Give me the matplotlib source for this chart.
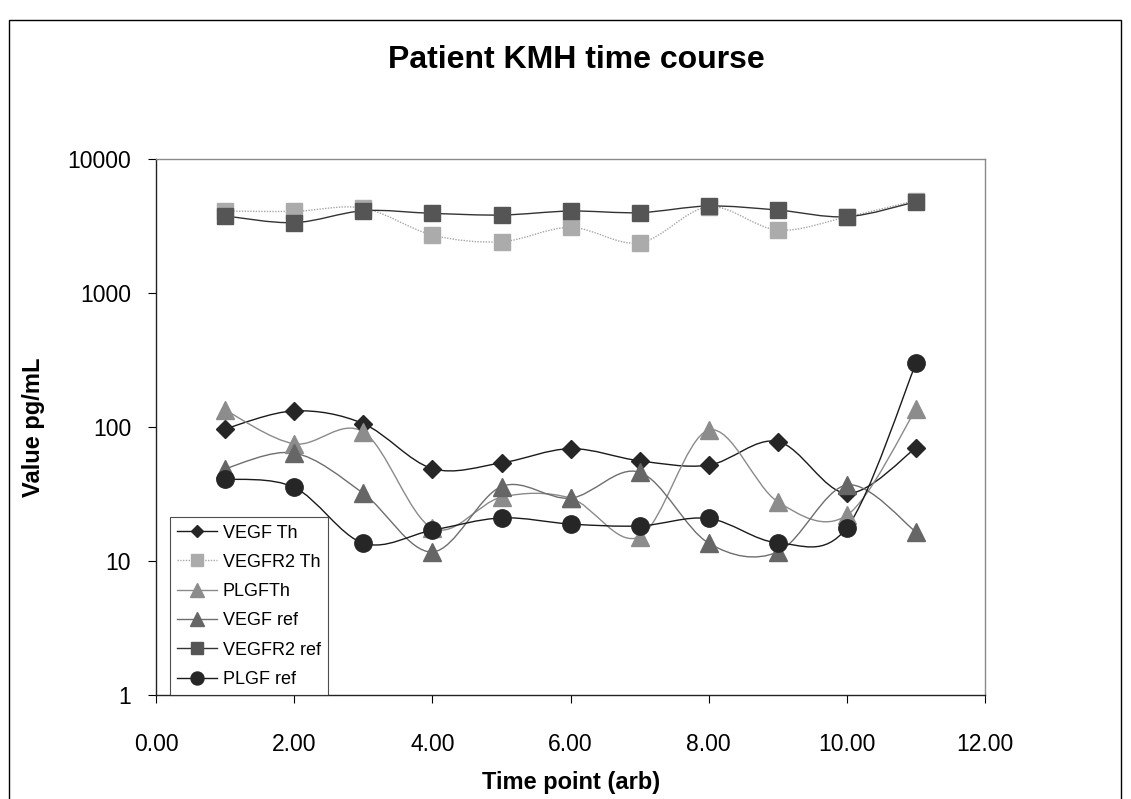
import numpy as np
import matplotlib
matplotlib.use("Agg")
import matplotlib.pyplot as plt
from matplotlib.path import Path
from matplotlib.patches import PathPatch, Rectangle
from matplotlib.lines import Line2D

plt.rcParams.update({
    'font.family': ['Liberation Sans', 'DejaVu Sans'],
    'font.size': 13,
})

time_points = [1, 2, 3, 4, 5, 6, 7, 8, 9, 10, 11]

vegf_th = [97, 132, 106, 49, 54, 69, 56, 52, 78, 32, 70]
vegfr2_th = [4090, 4070, 4300, 2710, 2415, 3090, 2370, 4400, 2950, 3700, 4900]
plgf_th = [134, 75, 92, 17.6, 30, 29.5, 15.2, 95, 27.7, 22, 136]
vegf_ref = [49, 64, 32, 11.7, 36, 29.5, 46, 13.6, 11.7, 37, 16.5]
vegfr2_ref = [3760, 3350, 4110, 3930, 3820, 4090, 3980, 4460, 4160, 3710, 4800]
plgf_ref = [41, 35.5, 13.6, 17, 21, 18.9, 18.3, 20.8, 13.7, 17.8, 299]

series_names = ['VEGF Th', 'VEGFR2 Th', 'PLGFTh', 'VEGF ref', 'VEGFR2 ref', 'PLGF ref']
series_vals = [vegf_th, vegfr2_th, plgf_th, vegf_ref, vegfr2_ref, plgf_ref]

# marker, marker size, face colour, line colour, line style
styles = [
    ('D', 8.8, '#262626', '#1a1a1a', '-'),
    ('s', 12, '#ababab', '#a6a6a6', (0, (1, 1))),
    ('^', 13, '#8c8c8c', '#8a8a8a', '-'),
    ('^', 13, '#666666', '#6e6e6e', '-'),
    ('s', 12, '#555555', '#333333', '-'),
    ('o', 12.5, '#262626', '#1a1a1a', '-'),
]


def smooth_path(x, y, k=1 / 6):
    # Excel style smoothed line: cubic bezier through the points (in log-y space)
    x = np.asarray(x, float)
    ly = np.log10(np.asarray(y, float))
    n = len(x)
    verts = [(x[0], ly[0])]
    codes = [Path.MOVETO]
    for i in range(n - 1):
        p0 = np.array([x[max(i - 1, 0)], ly[max(i - 1, 0)]])
        p1 = np.array([x[i], ly[i]])
        p2 = np.array([x[i + 1], ly[i + 1]])
        p3 = np.array([x[min(i + 2, n - 1)], ly[min(i + 2, n - 1)]])
        c1 = p1 + (p2 - p0) * k
        c2 = p2 - (p3 - p1) * k
        verts += [tuple(c1), tuple(c2), tuple(p2)]
        codes += [Path.CURVE4] * 3
    verts = [(vx, 10 ** vy) for vx, vy in verts]
    return Path(verts, codes)


fig = plt.figure(figsize=(11.31, 7.99), dpi=100)
ax = fig.add_axes([0.138, 0.130, 0.733, 0.671])

handles = []
for name, vals, (mk, ms, fc, lc, ls) in zip(series_names, series_vals, styles):
    patch = PathPatch(smooth_path(time_points, vals), facecolor='none',
                      edgecolor=lc, lw=1.0, linestyle=ls)
    ax.add_patch(patch)
    ax.plot(time_points, vals, linestyle='none', marker=mk, markersize=ms,
            markerfacecolor=fc, markeredgecolor=fc)
    handles.append(Line2D([], [], color=lc, lw=1.0, linestyle=ls, marker=mk,
                          markersize=ms * 0.75, markerfacecolor=fc, markeredgecolor=fc))

ax.set_yscale('log')
ax.set_ylim(1, 10000)
ax.set_xlim(0, 12)
ax.set_xticks(np.arange(0, 13, 2))
ax.set_xticklabels([f'{v:.2f}' for v in np.arange(0, 13, 2)])
ax.set_yticks([1, 10, 100, 1000, 10000])
ax.set_yticklabels(['1', '10', '100', '1000', '10000'])
ax.yaxis.set_minor_locator(matplotlib.ticker.NullLocator())
ax.tick_params(axis='both', labelsize=16.5, length=6, width=0.8)
ax.tick_params(axis='x', pad=21)
ax.tick_params(axis='y', pad=12)

for side in ['top', 'right']:
    ax.spines[side].set_color('#8a8a8a')
for side in ['left', 'bottom']:
    ax.spines[side].set_color('#222222')
for sp in ax.spines.values():
    sp.set_linewidth(1.0)

ax.set_xlabel('Time point (arb)', fontsize=17, fontweight='bold', labelpad=11)
ax.set_ylabel('Value pg/mL', fontsize=17, fontweight='bold', labelpad=16)

leg = ax.legend(handles, series_names, loc='lower left', bbox_to_anchor=(0.017, 0.0),
                fontsize=13, frameon=True, fancybox=False, borderpad=0.4,
                handlelength=2.2, labelspacing=0.68, handletextpad=0.3,
                borderaxespad=0.0)
leg.get_frame().set_edgecolor('#222222')
leg.get_frame().set_linewidth(0.8)

fig.text(0.51, 0.925, 'Patient KMH time course', ha='center', va='center',
         fontsize=23, fontweight='bold')

fig.patches.append(Rectangle((0.008, -0.01), 0.983, 0.985, transform=fig.transFigure,
                             fill=False, edgecolor='black', lw=1.0))

fig.savefig('out.png', dpi=100, facecolor='white')
